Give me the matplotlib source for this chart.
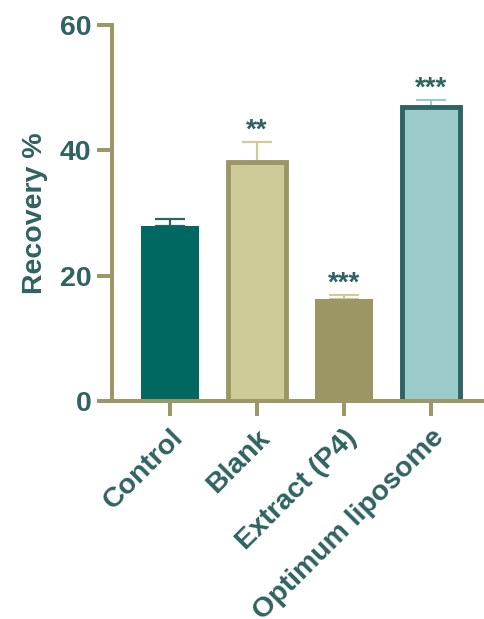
import matplotlib.pyplot as plt
import numpy as np

plt.rcParams['font.family'] = ['Liberation Sans', 'DejaVu Sans']
plt.rcParams['font.weight'] = 'bold'

# data
groups = ['Control', 'Blank', 'Extract (P4)', 'Optimum liposome']
recovery = [27.9, 38.2, 16.3, 46.9]
sd = [1.1, 3.1, 0.6, 1.1]
stars = ['', '**', '***', '***']

fills = ['#006761', '#CDCB98', '#9B9664', '#9CCBCC']
edges = ['#006761', '#9B9664', '#9B9664', '#2F6262']
edge_w = [0, 3.5, 0, 3.5]
err_colors = ['#2F6262', '#CDCB98', '#CDCB98', '#9CCBCC']

axis_col = '#9B9766'
text_col = '#2F6260'

fig = plt.figure(figsize=(4.84, 6.19), dpi=100)
ax = fig.add_axes([0.2314, 0.352, 0.7686, 0.6076])

x = np.arange(len(groups))
for i in range(len(groups)):
    ax.errorbar(x[i], recovery[i], yerr=[[0], [sd[i]]], fmt='none',
                ecolor=err_colors[i], elinewidth=1.6, capsize=10.5,
                capthick=1.6, zorder=1)
ax.bar(x, recovery, width=0.66, color=fills, edgecolor=edges,
       linewidth=edge_w, zorder=2)

for i in range(len(groups)):
    if stars[i]:
        ax.text(x[i], recovery[i] + sd[i] - 0.3, stars[i], ha='center',
                va='bottom', fontsize=20, fontweight='bold', color=text_col)

ax.set_xlim(-0.667, 3.61)
ax.set_ylim(0, 60)
ax.set_yticks([0, 20, 40, 60])
ax.set_xticks(x)
ax.set_xticklabels(groups, rotation=45, ha='right', rotation_mode='anchor')

for s in ['top', 'right']:
    ax.spines[s].set_visible(False)
for s in ['left', 'bottom']:
    ax.spines[s].set_color(axis_col)
    ax.spines[s].set_linewidth(2.9)

ax.tick_params(axis='both', colors=axis_col, width=2.9, length=11,
               labelcolor=text_col, labelsize=20.5, pad=4)
ax.tick_params(axis='x', pad=6)
for lab in ax.get_xticklabels() + ax.get_yticklabels():
    lab.set_fontweight('bold')

ax.set_ylabel('Recovery %', fontsize=20.5, fontweight='bold', color=text_col,
              labelpad=8)

fig.savefig('out.png', dpi=100)
